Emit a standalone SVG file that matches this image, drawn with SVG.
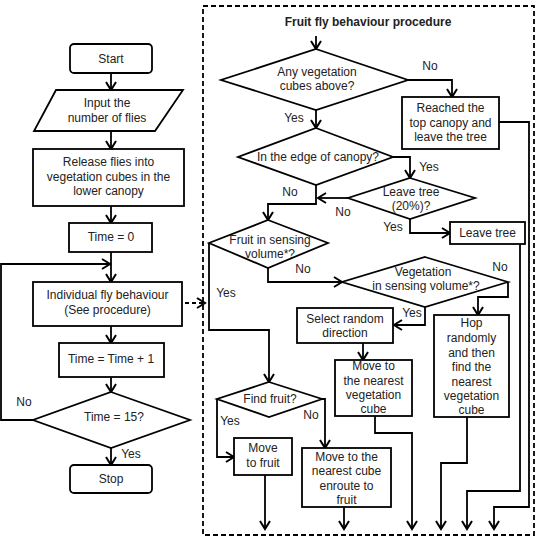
<svg xmlns="http://www.w3.org/2000/svg" width="540" height="539" viewBox="0 0 540 539">
<defs>
<style>
.s{fill:#fff;stroke:#000;stroke-width:1.8}
.c{fill:none;stroke:#000;stroke-width:1.8}
.d{fill:none;stroke:#000;stroke-width:1.8;stroke-dasharray:5,3}
text{font-family:"Liberation Sans",Arial,sans-serif;font-size:12px;fill:#222;text-anchor:middle}
.t{font-weight:bold}
</style>
<marker id="a" viewBox="-10 -6 12 12" refX="0" refY="0" markerWidth="12" markerHeight="12" markerUnits="userSpaceOnUse" orient="auto">
<path d="M-8,-5 L0,0 L-8,5" fill="none" stroke="#000" stroke-width="2"/>
</marker>
</defs>
<rect x="0" y="0" width="540" height="539" fill="#fff"/>

<g id="connectors">
<path class="c" d="M111,73 V90" marker-end="url(#a)"/>
<path class="c" d="M111,131 V149" marker-end="url(#a)"/>
<path class="c" d="M111,206 V223" marker-end="url(#a)"/>
<path class="c" d="M111,252 V282" marker-end="url(#a)"/>
<path class="c" d="M33,420 H1 V264 H110" marker-end="url(#a)"/>
<path class="c" d="M185,303 H205" stroke-dasharray="4,3" marker-end="url(#a)"/>
<path class="c" d="M111,326 V343" marker-end="url(#a)"/>
<path class="c" d="M111,377 V392" marker-end="url(#a)"/>
<path class="c" d="M111,448 V465" marker-end="url(#a)"/>

<path class="c" d="M316,36 V49" marker-end="url(#a)"/>
<path class="c" d="M408,80 H452 V97" marker-end="url(#a)"/>
<path class="c" d="M499,122 H529 V507 H494 V529" marker-end="url(#a)"/>
<path class="c" d="M316,110 V128" marker-end="url(#a)"/>
<path class="c" d="M393,157 H410 V178" marker-end="url(#a)"/>
<path class="c" d="M316,185 V204 H268 V220" marker-end="url(#a)"/>
<path class="c" d="M348,198 H318" marker-end="url(#a)"/>
<path class="c" d="M410,219 V233 H450" marker-end="url(#a)"/>
<path class="c" d="M520,244 V491 H467 V529" marker-end="url(#a)"/>
<path class="c" d="M209,243 V330 H269 V382" marker-end="url(#a)"/>
<path class="c" d="M268,268 V282 H342" marker-end="url(#a)"/>
<path class="c" d="M508,282 V297 H478 V315" marker-end="url(#a)"/>
<path class="c" d="M425,307 V325 H394" marker-end="url(#a)"/>
<path class="c" d="M363,343 V360" marker-end="url(#a)"/>
<path class="c" d="M375,416 V433 H412 V529" marker-end="url(#a)"/>
<path class="c" d="M467,417 V463 H441 V529" marker-end="url(#a)"/>
<path class="c" d="M217,399 V457 H234" marker-end="url(#a)"/>
<path class="c" d="M322,399 H325 V448" marker-end="url(#a)"/>
<path class="c" d="M265,475 V529" marker-end="url(#a)"/>
<path class="c" d="M344,507 V529" marker-end="url(#a)"/>

<text x="24" y="406">No</text>
<text x="131" y="458">Yes</text>
<text x="430" y="70">No</text>
<text x="294" y="122">Yes</text>
<text x="429" y="171">Yes</text>
<text x="290" y="196">No</text>
<text x="343" y="216">No</text>
<text x="393" y="231">Yes</text>
<text x="226" y="297">Yes</text>
<text x="303" y="273">No</text>
<text x="500" y="271">No</text>
<text x="412" y="317">Yes</text>
<text x="230" y="425">Yes</text>
<text x="311" y="419">No</text>
</g>

<g id="procedure-frame">
<rect class="d" x="203" y="6" width="331" height="529" fill="none"/>
<text class="t" x="368" y="26">Fruit fly behaviour procedure</text>
</g>

<g id="start">
<rect class="s" x="70" y="44" width="82" height="29" rx="4"/>
<text x="111" y="63">Start</text>
</g>
<g id="input">
<polygon class="s" points="56,90 183,90 155,131 34,131"/>
<text x="107" y="107">Input the</text>
<text x="107" y="122">number of flies</text>
</g>
<g id="release">
<rect class="s" x="33" y="149" width="151" height="57"/>
<text x="108.5" y="166">Release flies into</text>
<text x="108.5" y="181">vegetation cubes in the</text>
<text x="108.5" y="195">lower canopy</text>
</g>
<g id="time0">
<rect class="s" x="69" y="223" width="83" height="29"/>
<text x="111" y="241">Time = 0</text>
</g>
<g id="individual">
<rect class="s" x="33" y="282" width="149" height="44"/>
<text x="107.5" y="299">Individual fly behaviour</text>
<text x="107.5" y="314">(See procedure)</text>
</g>
<g id="time-inc">
<rect class="s" x="59" y="343" width="105" height="34"/>
<text x="111" y="363">Time = Time + 1</text>
</g>
<g id="time15">
<polygon class="s" points="111,392 190,420 111,448 33,420"/>
<text x="114" y="421">Time = 15?</text>
</g>
<g id="stop">
<rect class="s" x="70" y="465" width="82" height="28" rx="4"/>
<text x="111" y="483">Stop</text>
</g>

<g id="veg-above">
<polygon class="s" points="316,49 408,80 316,110 221,80"/>
<text x="317" y="76">Any vegetation</text>
<text x="317" y="90">cubes above?</text>
</g>
<g id="reached-top">
<rect class="s" x="402" y="97" width="97" height="52"/>
<text x="450.5" y="112">Reached the</text>
<text x="450.5" y="127">top canopy and</text>
<text x="450.5" y="141">leave the tree</text>
</g>
<g id="edge">
<polygon class="s" points="316,128 393,157 316,185 238,157"/>
<text x="318" y="161">In the edge of canopy?</text>
</g>
<g id="leave-q">
<polygon class="s" points="410,178 475,198 410,219 348,198"/>
<text x="411" y="196">Leave tree</text>
<text x="411" y="210">(20%)?</text>
</g>
<g id="leave-tree">
<rect class="s" x="450" y="222" width="75" height="22"/>
<text x="487.5" y="237">Leave tree</text>
</g>
<g id="fruit-sense">
<polygon class="s" points="268,220 328,243 268,268 209,243"/>
<text x="270" y="244">Fruit in sensing</text>
<text x="270" y="258">volume*?</text>
</g>
<g id="veg-sense">
<polygon class="s" points="425,257 508,282 425,307 342,282"/>
<text x="423" y="276">Vegetation</text>
<text x="426" y="290">in sensing volume*?</text>
</g>
<g id="select-random">
<rect class="s" x="297" y="308" width="96" height="35"/>
<text x="345" y="323">Select random</text>
<text x="345" y="337">direction</text>
</g>
<g id="move-veg">
<rect class="s" x="335" y="360" width="77" height="56"/>
<text x="373.5" y="370">Move to</text>
<text x="373.5" y="385">the nearest</text>
<text x="373.5" y="399">vegetation</text>
<text x="373.5" y="413">cube</text>
</g>
<g id="hop">
<rect class="s" x="434" y="315" width="75" height="102"/>
<text x="471.5" y="327">Hop</text>
<text x="471.5" y="342">randomly</text>
<text x="471.5" y="357">and then</text>
<text x="471.5" y="371">find the</text>
<text x="471.5" y="386">nearest</text>
<text x="471.5" y="400">vegetation</text>
<text x="471.5" y="414">cube</text>
</g>
<g id="find-fruit">
<polygon class="s" points="269,382 322,399 269,417 217,399"/>
<text x="270" y="403">Find fruit?</text>
</g>
<g id="move-fruit">
<rect class="s" x="234" y="438" width="58" height="37"/>
<text x="263" y="452">Move</text>
<text x="263" y="467">to fruit</text>
</g>
<g id="move-cube">
<rect class="s" x="302" y="448" width="89" height="59"/>
<text x="346.5" y="461">Move to the</text>
<text x="346.5" y="475">nearest cube</text>
<text x="346.5" y="490">enroute to</text>
<text x="346.5" y="504">fruit</text>
</g>
</svg>
